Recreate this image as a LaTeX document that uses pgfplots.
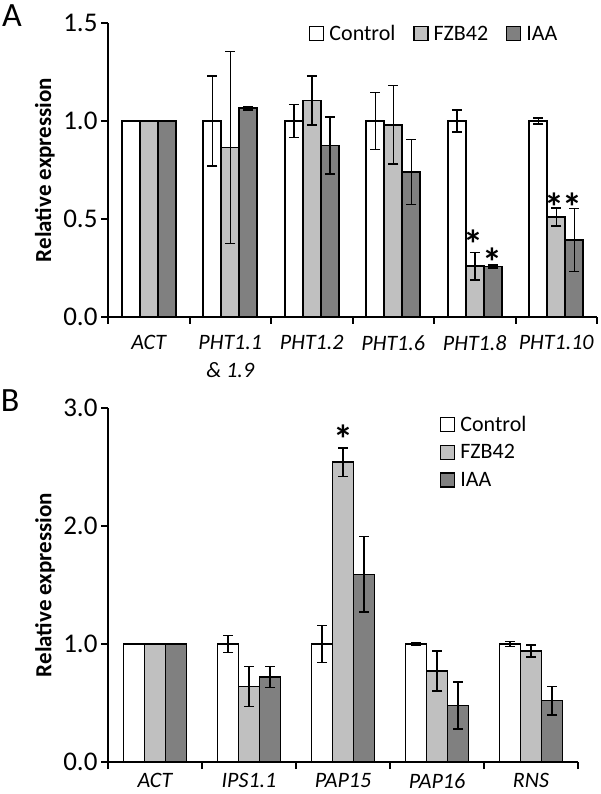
\documentclass[border=0pt]{standalone}
\usepackage{fontspec}
\setmainfont{Carlito}
\usepackage{pgfplots}
\pgfplotsset{compat=1.18}

\definecolor{cCtrl}{RGB}{255,255,255}
\definecolor{cFZB}{RGB}{192,192,192}
\definecolor{cIAA}{RGB}{128,128,128}

\tikzset{star/.style={font=\fontsize{40}{40}\selectfont\bfseries, yshift=-8pt}}

% shared look of both panels
\pgfplotsset{
  exprpanel/.style={
    scale only axis,
    axis lines*=left,
    axis line style={line width=2pt},
    ybar=0pt,
    ymin=0,
    tick align=outside,
    major tick length=7pt,
    tick style={line width=2pt, black},
    x tick label as interval,
    yticklabel style={font=\fontsize{27}{30}\selectfont,
      /pgf/number format/.cd, fixed, fixed zerofill, precision=1, assume math mode=true},
    xticklabel style={font=\fontsize{22}{28}\selectfont\itshape, align=center},
    ylabel={Relative expression},
    ylabel style={font=\fontsize{23}{26}\selectfont\bfseries, anchor=center},
    error bars/y dir=both, error bars/y explicit,
    error bars/error bar style={line width=1.5pt, black},
    error bars/error mark options={rotate=90, line width=1.5pt, mark size=5pt, black},
    legend image code/.code={\draw[#1, line width=1.2pt] (0pt,-7pt) rectangle (14pt,7pt);},
    legend style={draw=none, fill=none, font=\fontsize{22}{26}\selectfont,
      legend cell align=left,
      /tikz/every odd column/.append style={column sep=3pt}},
  },
  ctrl/.style={draw=black, line width=1.6pt, fill=cCtrl},
  fzb/.style={draw=black, line width=1.6pt, fill=cFZB},
  iaa/.style={draw=black, line width=1.6pt, fill=cIAA},
}

\begin{document}
\begin{tikzpicture}
\useasboundingbox (0,0) rectangle (600pt,794pt);

\node[font=\fontsize{34}{36}\selectfont] at (12pt,778pt) {A};
\node[font=\fontsize{34}{36}\selectfont] at (10pt,393pt) {B};

% ---- panel A ----
\begin{axis}[
  exprpanel,
  at={(108pt,477pt)}, anchor=south west,
  width=489pt, height=294pt,
  xmin=-0.5, xmax=5.5, ymax=1.5,
  bar width=18pt,
  xtick={-0.5,0.5,...,5.5},
  xticklabels={ACT, PHT1.1\\\& 1.9, PHT1.2, PHT1.6, PHT1.8, PHT1.10},
  xticklabel style={yshift=-8pt},
  ytick={0,0.5,1,1.5},
  ylabel style={at={(axis description cs:-0.129,0.5)}},
  legend columns=-1,
  legend style={at={(axis description cs:0.405,0.963)}, anchor=west,
    /tikz/every even column/.append style={column sep=16pt}},
]
\addplot[ctrl] coordinates {
  (0,1) +- (0,0)
  (1,1) +- (0,0.23)
  (2,1) +- (0,0.085)
  (3,1) +- (0,0.145)
  (4,1) +- (0,0.055)
  (5,1) +- (0,0.015)
};
\addplot[fzb] coordinates {
  (0,1) +- (0,0)
  (1,0.865) +- (0,0.49)
  (2,1.105) +- (0,0.125)
  (3,0.98) +- (0,0.2)
  (4,0.26) +- (0,0.07)
  (5,0.51) +- (0,0.045)
};
\addplot[iaa] coordinates {
  (0,1) +- (0,0)
  (1,1.065) +- (0,0.008)
  (2,0.875) +- (0,0.145)
  (3,0.74) +- (0,0.165)
  (4,0.257) +- (0,0.008)
  (5,0.393) +- (0,0.16)
};
\legend{Control, FZB42, IAA}
\node[star] at (axis cs:3.99,0.41) {*};
\node[star] at (axis cs:4.22,0.32) {*};
\node[star] at (axis cs:4.98,0.60) {*};
\node[star] at (axis cs:5.20,0.60) {*};
\end{axis}

% ---- panel B ----
\begin{axis}[
  exprpanel,
  at={(108pt,32pt)}, anchor=south west,
  width=470pt, height=354pt,
  xmin=-0.5, xmax=4.5, ymax=3,
  bar width=21pt,
  xtick={-0.5,0.5,...,4.5},
  xticklabels={ACT, IPS1.1, PAP15, PAP16, RNS},
  xticklabel style={yshift=-1pt},
  ytick={0,1,2,3},
  ylabel style={at={(axis description cs:-0.134,0.5)}},
  legend style={at={(axis description cs:0.70,0.99)}, anchor=north west,
    row sep=8pt},
]
\addplot[ctrl] coordinates {
  (0,1) +- (0,0)
  (1,1) +- (0,0.07)
  (2,1) +- (0,0.155)
  (3,1) +- (0,0.01)
  (4,1) +- (0,0.02)
};
\addplot[fzb] coordinates {
  (0,1) +- (0,0)
  (1,0.64) +- (0,0.17)
  (2,2.54) +- (0,0.12)
  (3,0.77) +- (0,0.17)
  (4,0.94) +- (0,0.05)
};
\addplot[iaa] coordinates {
  (0,1) +- (0,0)
  (1,0.72) +- (0,0.09)
  (2,1.59) +- (0,0.32)
  (3,0.48) +- (0,0.2)
  (4,0.52) +- (0,0.12)
};
\legend{Control, FZB42, IAA}
\node[star] at (axis cs:2,2.80) {*};
\end{axis}
\end{tikzpicture}
\end{document}
